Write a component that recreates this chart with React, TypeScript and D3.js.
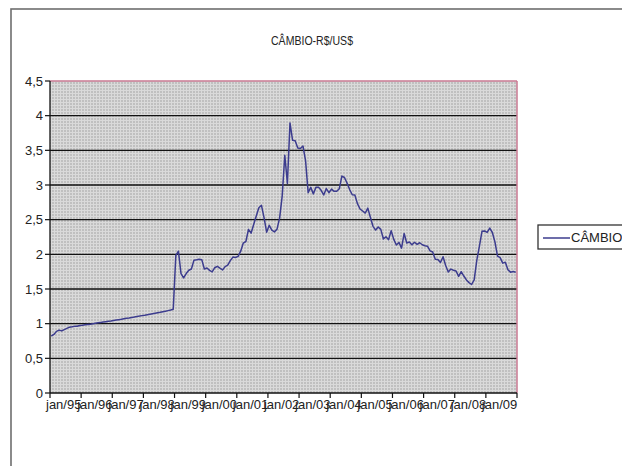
import React from "react";
import * as d3 from "d3";

const title = "CÂMBIO-R$/US$";
const seriesName = "CÂMBIO";
const yearLabels = ["jan/95","jan/96","jan/97","jan/98","jan/99","jan/00","jan/01","jan/02","jan/03","jan/04","jan/05","jan/06","jan/07","jan/08","jan/09"];
const yTicks = [0, 0.5, 1, 1.5, 2, 2.5, 3, 3.5, 4, 4.5];

const v1995 = [0.822, 0.845, 0.889, 0.907, 0.896, 0.915, 0.932, 0.950, 0.955, 0.961, 0.963, 0.973];
const v1996 = [0.976, 0.983, 0.987, 0.991, 0.998, 1.005, 1.012, 1.018, 1.024, 1.029, 1.034, 1.039];
const v1997 = [1.046, 1.052, 1.058, 1.064, 1.071, 1.077, 1.083, 1.090, 1.096, 1.103, 1.109, 1.116];
const v1998 = [1.122, 1.129, 1.136, 1.143, 1.150, 1.157, 1.164, 1.172, 1.180, 1.188, 1.196, 1.208];
const v1999 = [1.983, 2.045, 1.722, 1.661, 1.723, 1.770, 1.789, 1.916, 1.922, 1.930, 1.923, 1.789];
const v2000 = [1.802, 1.768, 1.747, 1.807, 1.827, 1.800, 1.775, 1.823, 1.844, 1.909, 1.960, 1.955];
const v2001 = [1.971, 2.045, 2.162, 2.185, 2.360, 2.305, 2.431, 2.552, 2.671, 2.707, 2.529, 2.320];
const v2002 = [2.418, 2.348, 2.324, 2.363, 2.522, 2.844, 3.429, 3.022, 3.895, 3.645, 3.638, 3.533];
const v2003 = [3.526, 3.563, 3.353, 2.890, 2.966, 2.872, 2.966, 2.967, 2.923, 2.856, 2.949, 2.889];
const v2004 = [2.941, 2.909, 2.909, 2.945, 3.129, 3.108, 3.027, 2.934, 2.859, 2.857, 2.731, 2.654];
const v2005 = [2.625, 2.595, 2.666, 2.531, 2.404, 2.350, 2.395, 2.360, 2.222, 2.254, 2.212, 2.341];
const v2006 = [2.216, 2.134, 2.172, 2.089, 2.301, 2.164, 2.177, 2.137, 2.174, 2.143, 2.167, 2.138];
const v2007 = [2.125, 2.118, 2.050, 2.034, 1.929, 1.926, 1.882, 1.966, 1.839, 1.744, 1.787, 1.771];
const v2008 = [1.760, 1.683, 1.749, 1.687, 1.631, 1.592, 1.565, 1.633, 1.914, 2.116, 2.332, 2.337];
const v2009 = [2.316, 2.378, 2.315, 2.178, 1.973, 1.952, 1.873, 1.886, 1.778, 1.743, 1.751, 1.741];

const values = [
  ...v1995, ...v1996, ...v1997, ...v1998, ...v1999, ...v2000, ...v2001, ...v2002,
  ...v2003, ...v2004, ...v2005, ...v2006, ...v2007, ...v2008, ...v2009,
];

const FONT = "'Liberation Sans', Arial, sans-serif";

export default function App() {
  const left = 50, right = 517, top = 81, bottom = 393;
  const n = values.length;
  const x = d3.scaleLinear().domain([0, n]).range([left, right]);
  const y = d3.scaleLinear().domain([0, 4.5]).range([bottom, top]);
  const line = d3.line<number>().x((_, i) => x(i + 0.5)).y((d) => y(d));
  const tickIdx = d3.range(0, n + 1, 12);
  const lineColor = "#3c3c8e";

  return (
    <svg width={622} height={466} style={{ position: "absolute", left: 0, top: 0, background: "#fff" }}>
      <defs>
        <pattern id="fine" width={3} height={3} patternUnits="userSpaceOnUse">
          <rect width={3} height={3} fill="#c0c0c0" />
          <rect width={3} height={1} fill="#dadada" />
          <rect width={1} height={3} fill="#dadada" />
        </pattern>
        <clipPath id="pc"><rect x={left} y={top - 2} width={right - left} height={bottom - top + 2} /></clipPath>
      </defs>
      <rect x={0} y={0} width={622} height={466} fill="#fff" />
      <rect x={11} y={9} width={700} height={600} fill="none" stroke="#6e6e6e" strokeWidth={1.6} />
      <text x={312} y={45} textAnchor="middle" fontFamily={FONT} fontSize={12} fill="#222"
        textLength={82} lengthAdjust="spacingAndGlyphs">{title}</text>

      <rect x={left} y={top} width={right - left} height={bottom - top} fill="url(#fine)" />
      {yTicks.slice(1, -1).map((t) => (
        <line key={t} x1={left} x2={right} y1={y(t)} y2={y(t)} stroke="#111" strokeWidth={1.4} />
      ))}
      <line x1={left} x2={right} y1={y(4.5)} y2={y(4.5)} stroke="#c97892" strokeWidth={1.5} />
      <line x1={right} x2={right} y1={top} y2={bottom} stroke="#c97892" strokeWidth={1.5} />

      <path d={line(values) || ""} fill="none" stroke={lineColor} strokeWidth={1.5} clipPath="url(#pc)" strokeLinejoin="round" />

      <line x1={left} x2={left} y1={top} y2={bottom} stroke="#111" strokeWidth={1.3} />
      <line x1={left} x2={right} y1={bottom} y2={bottom} stroke="#111" strokeWidth={1.3} />
      {yTicks.map((t) => (
        <g key={t}>
          <line x1={left - 5} x2={left} y1={y(t)} y2={y(t)} stroke="#111" strokeWidth={1.2} />
          <text x={43} y={y(t)} dy="0.35em" textAnchor="end" fontFamily={FONT} fontSize={13} fill="#222">
            {String(t).replace(".", ",")}
          </text>
        </g>
      ))}
      {tickIdx.map((i) => (
        <line key={i} x1={x(i)} x2={x(i)} y1={bottom} y2={bottom + 5} stroke="#111" strokeWidth={1.2} />
      ))}
      {yearLabels.map((lab, k) => (
        <text key={lab} x={x(k * 12) - 4} y={409} textAnchor="start" fontFamily={FONT} fontSize={13} fill="#222">
          {lab}
        </text>
      ))}

      <rect x={538} y={225} width={120} height={24} fill="#fff" stroke="#333" strokeWidth={1.3} />
      <line x1={543} x2={570} y1={238} y2={238} stroke={lineColor} strokeWidth={1.5} />
      <text x={571} y={242} fontFamily={FONT} fontSize={13} fill="#222">{seriesName}</text>
    </svg>
  );
}
